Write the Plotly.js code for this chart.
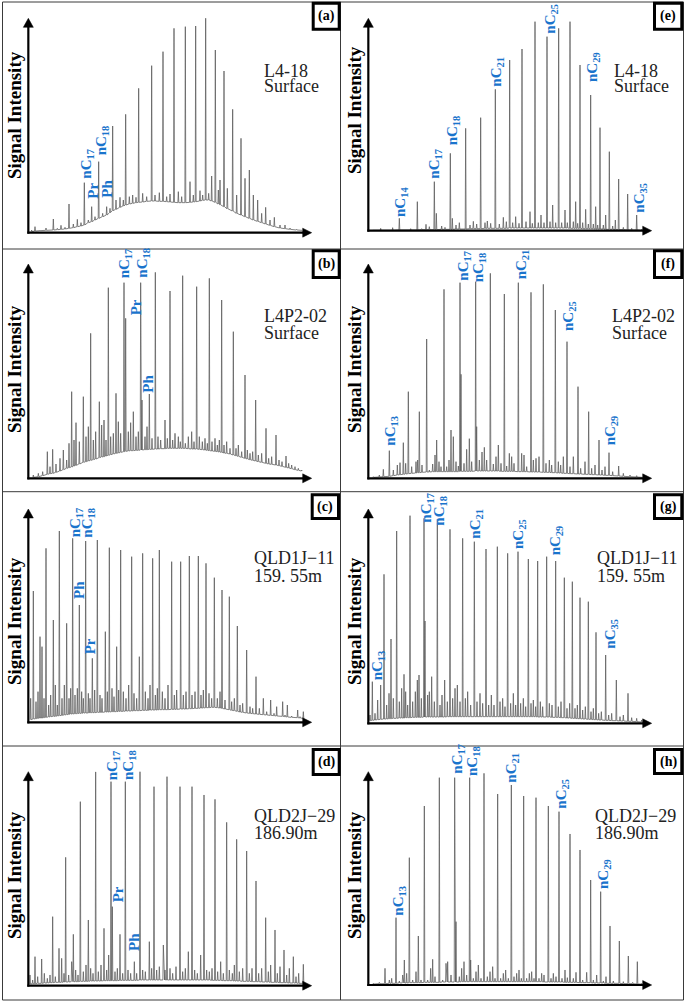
<!DOCTYPE html>
<html>
<head>
<meta charset="utf-8">
<script src="https://cdn.plot.ly/plotly-3.0.1.min.js"></script>
<style>html,body{margin:0;padding:0;background:#fff}#chart{width:685px;height:1002px}</style>
</head>
<body>
<div id="chart"></div>
<script>
// ---------------- DATA (retention position, peak intensity, baseline under peak) ----------------
// Panel (a) L4-18 Surface
const rt_a = [95,105,120,138,160,172,183,195,207,220,232,243,253,265,275,285,296,308,320,330,338,348,360,370,377,388,398,408,416,428,440,455,465,478,489,500,510,522,535,545,556,570,580,587,600,608,617,626,635,646,655,660,672,682,698,710,723,735,748,760,773,785,797,810,823,840,855,870,890,905];
const int_a = [8,18,8,14,41,13,22,16,86,26,40,30,150,38,78,48,213,58,78,73,320,98,106,98,355,108,113,106,433,118,108,501,113,120,543,108,116,613,123,108,618,153,113,620,126,113,650,118,170,548,128,158,485,133,370,113,283,163,188,113,98,58,76,38,46,23,23,14,10,8];
const base_a = [3,5,6,7,8,9,10,11,13,15,18,20,23,30,33,38,43,48,53,60,66,70,76,80,83,86,88,90,91,92,94,95,95,94,94,93,92,91,90,90,90,91,92,93,95,97,98,98,95,91,86,84,78,72,65,58,53,48,43,38,34,30,26,22,18,14,12,10,8,7];

// Panel (e) L4-18 Surface
const rt_e = [100,122,140,158,178,195,212,232,245,258,268,283,289,305,315,331,337,348,358,377,390,400,410,422,435,442,452,466,478,490,499,509,518,527,537,546,558,570,577,585,595,603,612,621,630,638,647,656,665,675,682,690,700,707,713,720,728,737,745,752,760,767,773,780,790,797,808,818,826,836,850,863,875,890,905];
const int_e = [2,7,3,9,37,4,6,87,6,19,12,147,52,14,10,232,37,17,24,307,17,28,20,339,24,29,22,424,20,40,27,512,24,42,22,545,27,57,22,627,24,47,24,582,27,77,24,607,24,62,24,627,27,87,22,497,24,64,20,407,20,72,17,309,17,47,237,14,32,155,10,110,7,47,4];
const base_e = [1,1,1,1,2,2,2,2,3,3,3,3,3,4,4,4,4,5,5,5,6,6,6,6,7,7,7,7,7,7,7,8,8,8,8,8,8,8,8,8,8,8,8,8,8,8,8,8,8,8,8,7,7,7,7,7,6,6,6,6,6,5,5,5,5,4,4,4,3,3,3,2,2,2,1];

// Panel (b) L4P2-02 Surface
const rt_b = [100,115,128,142,150,158,168,180,190,200,207,215,222,228,238,250,258,265,272,280,287,298,305,312,318,325,332,340,348,355,362,372,377,385,392,400,408,415,422,426,435,441,448,456,466,474,482,495,502,510,518,525,535,541,548,556,565,575,582,590,598,607,615,622,628,636,645,652,658,665,672,680,690,700,708,715,725,735,742,750,758,767,775,785,798,806,815,828,837,846,858,866,875,885,895,905];
const int_b = [10,15,20,80,35,87,43,60,85,55,105,260,115,167,110,245,125,155,435,115,140,230,160,175,115,572,125,135,255,170,135,587,480,140,167,200,125,140,587,235,125,155,253,120,618,125,115,175,120,562,115,135,125,110,608,105,125,140,110,575,125,110,120,105,600,110,120,100,115,535,100,110,90,440,90,100,80,310,85,75,80,235,70,75,150,60,65,130,55,50,67,45,40,35,30,25];
const base_b = [3,5,8,12,14,15,18,22,26,30,32,34,37,39,43,48,50,52,54,56,58,62,64,65,67,69,71,73,75,76,78,80,81,82,83,83,84,84,85,85,86,86,87,87,88,88,89,89,90,90,90,90,90,90,90,90,89,88,88,88,87,86,85,84,83,82,81,80,79,78,76,75,73,70,68,66,63,60,58,56,54,52,50,48,45,43,42,40,38,36,33,31,29,26,24,22];

// Panel (f) L4P2-02 Surface
const rt_f = [100,118,130,148,160,172,180,190,197,205,215,228,233,238,246,260,268,278,285,290,297,303,312,320,327,333,340,348,355,360,363,372,380,388,395,407,410,418,426,433,440,451,460,468,475,483,493,500,508,515,522,535,545,552,560,573,580,588,597,610,618,628,635,646,655,662,670,681,690,700,714,722,735,746,755,765,777,786,795,807,818,836,850,870,890,905];
const int_f = [5,10,27,83,25,40,47,107,45,260,35,50,55,200,40,418,25,43,70,115,50,35,567,35,55,145,125,50,37,587,312,45,87,119,50,590,155,55,79,93,55,615,43,65,100,45,553,37,75,65,45,587,75,70,35,558,55,60,65,582,45,55,40,505,50,40,65,410,35,65,275,30,50,200,30,40,115,25,35,77,20,37,15,10,8,5];
const base_f = [3,4,5,6,8,10,11,12,13,14,15,16,17,17,18,19,19,20,20,20,20,20,20,20,20,20,20,20,20,21,21,21,21,21,21,22,22,22,22,22,22,22,22,22,22,21,21,21,21,21,21,20,20,20,20,19,19,19,19,18,18,18,17,17,16,16,15,15,14,14,13,13,12,12,11,11,10,10,9,9,8,7,6,5,4,3];

// Panel (c) QLD1J-11 159.55m
const rt_c = [92,100,108,114,120,126,132,138,146,152,160,166,172,178,186,193,200,207,212,218,225,232,238,245,250,257,265,270,277,284,292,300,306,316,322,328,336,342,350,356,362,370,378,386,395,402,410,418,428,436,444,450,458,466,472,478,487,495,504,515,523,530,542,550,558,568,576,585,595,603,610,618,627,635,643,652,660,666,675,688,695,703,712,720,728,740,750,758,768,778,790,800,812,822,830,848,855,862,875,893,900,910];
const int_c = [72,394,62,92,257,227,72,522,52,82,307,112,52,574,72,112,297,72,102,552,82,102,352,92,72,544,87,72,192,97,547,82,72,272,92,524,102,77,227,97,517,92,72,112,497,87,72,197,507,92,72,112,492,82,102,517,92,72,112,482,82,97,482,82,92,499,82,92,499,82,97,477,87,72,434,72,92,397,67,377,62,72,289,52,57,217,47,42,137,42,72,32,67,27,47,62,22,52,19,37,17,32];
const base_c = [8,10,11,12,13,13,14,15,16,17,18,18,19,20,21,22,23,24,25,25,26,26,27,27,28,28,28,29,29,29,30,30,30,31,31,31,32,32,32,33,33,33,34,34,34,35,35,35,36,36,36,37,37,37,37,38,38,38,38,39,39,39,40,40,40,41,41,42,42,43,43,44,44,45,45,44,43,42,40,38,36,35,33,31,30,28,27,26,25,24,23,22,21,20,19,18,17,16,15,14,13,12];

// Panel (g) QLD1J-11 159.55m
const rt_g = [90,97,105,113,122,132,140,147,153,160,170,178,185,192,197,203,210,218,226,232,237,244,252,255,263,268,275,283,292,300,306,314,322,330,338,345,352,360,368,376,383,392,403,411,420,428,438,446,454,462,472,480,488,495,503,512,520,527,534,542,550,557,565,573,580,587,593,601,608,620,628,636,647,655,663,673,681,689,697,705,712,720,728,736,745,753,760,768,776,784,797,806,815,829,840,850,864,875,890,905];
const int_g = [25,125,30,70,115,447,55,90,253,75,577,65,105,147,95,55,623,65,95,130,145,75,615,307,85,95,140,65,612,55,85,130,65,582,75,105,115,65,555,75,95,55,545,65,90,60,523,55,85,55,530,65,75,50,510,60,90,55,515,60,75,50,493,60,70,50,487,65,50,500,60,55,487,50,65,437,45,60,425,45,55,377,40,50,365,35,45,273,30,35,205,25,30,130,20,25,90,17,15,10];
const base_g = [8,9,10,11,12,13,13,14,14,15,15,16,16,16,17,17,17,18,18,18,18,18,19,19,19,19,19,19,19,19,19,19,20,20,20,20,20,20,20,20,20,20,20,20,20,20,20,20,20,20,20,20,20,20,20,20,20,20,20,20,20,20,20,20,20,20,19,19,19,19,19,18,18,18,17,17,16,16,15,15,14,14,13,13,12,12,11,11,10,10,9,9,8,8,7,7,6,6,5,4];

// Panel (d) QLD2J-29 186.90m
const rt_d = [90,98,105,113,125,133,142,150,158,166,177,185,192,197,206,215,220,227,234,241,250,258,265,272,279,287,295,303,312,320,326,333,337,345,352,360,368,376,384,392,403,410,420,428,436,448,455,462,470,478,490,495,501,510,518,528,540,548,556,565,576,584,592,602,612,620,628,636,645,653,662,670,680,688,697,703,710,718,728,740,748,756,768,776,785,797,805,812,825,832,840,852,860,868,880,888,896,910];
const int_d = [32,17,87,27,80,37,22,32,207,27,112,82,37,385,32,72,154,47,32,552,42,62,197,52,37,642,42,62,172,47,92,612,237,42,52,154,37,612,47,37,72,37,664,47,42,132,52,597,47,57,122,47,627,52,37,57,597,42,52,102,597,47,37,92,572,47,42,52,559,42,72,37,490,47,37,62,439,42,52,404,37,52,314,37,52,204,42,62,167,37,57,107,32,52,87,27,37,64];
const base_d = [5,6,6,7,7,8,8,9,9,10,10,10,11,11,11,12,12,12,12,13,13,13,13,14,14,14,14,14,15,15,15,15,15,15,15,16,16,16,16,16,16,16,17,17,17,17,17,17,17,17,17,17,17,17,17,17,17,17,17,17,17,17,17,17,17,17,17,16,16,16,16,15,15,15,15,14,14,14,13,13,13,12,12,12,11,11,11,10,10,10,9,9,9,8,8,8,7,7];

// Panel (h) QLD2J-29 186.90m
const rt_h = [100,118,135,148,155,168,178,188,193,200,208,218,228,235,243,253,263,272,278,285,298,308,318,323,333,344,348,358,365,372,380,389,392,400,408,415,423,432,442,450,458,465,473,482,490,497,505,514,522,530,537,544,551,560,568,575,582,588,597,605,612,625,633,640,648,657,666,675,682,690,700,708,720,728,740,752,760,770,782,790,798,810,820,838,850,865,878,892,905];
const int_h = [5,8,50,15,20,202,12,30,75,35,382,15,40,147,15,537,15,50,77,25,622,15,65,70,30,622,190,25,50,70,30,622,75,20,40,60,20,635,25,40,55,20,573,20,35,45,20,600,25,35,45,20,567,20,35,40,20,562,20,35,30,537,20,35,25,520,20,45,22,453,20,38,405,15,38,315,15,30,280,12,25,177,12,132,10,87,8,70,5];
const base_h = [3,4,4,5,5,5,6,6,6,6,7,7,7,7,7,8,8,8,8,8,8,9,9,9,9,9,9,9,10,10,10,10,10,10,10,10,10,10,10,10,10,10,10,10,10,10,10,10,10,10,10,10,10,10,10,10,10,10,10,10,9,9,9,9,9,9,9,8,8,8,8,8,7,7,7,7,6,6,6,6,5,5,5,5,4,4,4,3,3];

// Peak labels: text, position, label foot height
const labText_a = ['nC<sub>17</sub>','Pr','nC<sub>18</sub>','Ph'];
const labX_a = [260,278,305,322];
const labY_a = [158,98,228,103];
const labText_e = ['nC<sub>14</sub>','nC<sub>17</sub>','nC<sub>18</sub>','nC<sub>21</sub>','nC<sub>25</sub>','nC<sub>29</sub>','nC<sub>35</sub>'];
const labX_e = [183,284,338,472,632,761,901];
const labY_e = [38,152,252,430,587,442,52];
const labText_b = ['nC<sub>17</sub>','Pr','nC<sub>18</sub>','Ph'];
const labX_b = [375,407,430,445];
const labY_b = [597,485,600,255];
const labText_f = ['nC<sub>13</sub>','nC<sub>17</sub>','nC<sub>18</sub>','nC<sub>21</sub>','nC<sub>25</sub>','nC<sub>29</sub>'];
const labX_f = [153,372,417,547,685,812];
const labY_f = [95,590,585,595,440,95];
const labText_c = ['nC<sub>17</sub>','Ph','nC<sub>18</sub>','Pr'];
const labX_c = [228,237,265,271];
const labY_c = [552,367,552,202];
const labText_g = ['nC<sub>13</sub>','nC<sub>17</sub>','nC<sub>18</sub>','nC<sub>21</sub>','nC<sub>25</sub>','nC<sub>29</sub>','nC<sub>35</sub>'];
const labX_g = [113,262,300,407,537,647,812];
const labY_g = [125,600,590,550,520,500,220];
const labText_d = ['nC<sub>17</sub>','Pr','nC<sub>18</sub>','Ph'];
const labX_d = [340,354,387,400];
const labY_d = [614,247,614,102];
const labText_h = ['nC<sub>13</sub>','nC<sub>17</sub>','nC<sub>18</sub>','nC<sub>21</sub>','nC<sub>25</sub>','nC<sub>29</sub>'];
const labX_h = [177,353,397,517,665,792];
const labY_h = [205,630,625,605,525,285];

const sample_a = ['L4-18','Surface'];
const sample_e = ['L4-18','Surface'];
const sample_b = ['L4P2-02','Surface'];
const sample_f = ['L4P2-02','Surface'];
const sample_c = ['QLD1J\u221211','159. 55m'];
const sample_g = ['QLD1J\u221211','159. 55m'];
const sample_d = ['QLD2J\u221229','186.90m'];
const sample_h = ['QLD2J\u221229','186.90m'];

// ---------------- LAYOUT ----------------
const W = 685, H = 1002;
const px = v => v / W;
const py = v => 1 - v / H;
const SERIF = 'Liberation Serif, "Times New Roman", Times, serif';
const BLUE = '#1a74cc';

const panels = [
  {k:'a', rt:rt_a, it:int_a, bs:base_a, lt:labText_a, lx:labX_a, ly:labY_a, s:sample_a, ox:0,   oy:0,   ax:698, tp:55,  box:[311.7,1.7,340.7,30.7], sx:262,   sy:[71,86],    siy:115},
  {k:'b', rt:rt_b, it:int_b, bs:base_b, lt:labText_b, lx:labX_b, ly:labY_b, s:sample_b, ox:0,   oy:240, ax:715, tp:72,  box:[311.7,249.3,340.7,279], sx:262, sy:[316,333],  siy:369},
  {k:'c', rt:rt_c, it:int_c, bs:base_c, lt:labText_c, lx:labX_c, ly:labY_c, s:sample_c, ox:0,   oy:485, ax:712, tp:72,  box:[310.7,493.3,340,520], sx:252,   sy:[558,576],  siy:621},
  {k:'d', rt:rt_d, it:int_d, bs:base_d, lt:labText_d, lx:labX_d, ly:labY_d, s:sample_d, ox:0,   oy:735, ax:752, tp:110, box:[311.7,748,340.7,776], sx:252,   sy:[816,833],  siy:875},
  {k:'e', rt:rt_e, it:int_e, bs:base_e, lt:labText_e, lx:labX_e, ly:labY_e, s:sample_e, ox:340, oy:0,   ax:692, tp:55,  box:[653,1.7,683.3,30.7], sx:611.7,  sy:[71,86],    siy:110},
  {k:'f', rt:rt_f, it:int_f, bs:base_f, lt:labText_f, lx:labX_f, ly:labY_f, s:sample_f, ox:340, oy:240, ax:715, tp:72,  box:[653,249.3,683.3,279], sx:610,   sy:[316,333],  siy:369},
  {k:'g', rt:rt_g, it:int_g, bs:base_g, lt:labText_g, lx:labX_g, ly:labY_g, s:sample_g, ox:340, oy:485, ax:715, tp:72,  box:[653,493.3,683.3,520], sx:595,   sy:[558,576],  siy:621},
  {k:'h', rt:rt_h, it:int_h, bs:base_h, lt:labText_h, lx:labX_h, ly:labY_h, s:sample_h, ox:340, oy:735, ax:750, tp:110, box:[653,748,683.3,775], sx:593,     sy:[816,833],  siy:875}
];

const traces = [];
const layout = {
  width: W, height: H,
  margin: {l:0, r:0, t:0, b:0},
  paper_bgcolor: '#fff', plot_bgcolor: 'rgba(0,0,0,0)',
  showlegend: false,
  shapes: [], annotations: []
};

// panel frame lines
const frameLine = (x0,y0,x1,y1) => ({type:'line', xref:'paper', yref:'paper', x0:px(x0), y0:py(y0), x1:px(x1), y1:py(y1), line:{color:'#3a3a3a', width:1}, layer:'below'});
layout.shapes.push(frameLine(2.5,2,2.5,1000));
layout.shapes.push(frameLine(683.5,2,683.5,1000));
layout.shapes.push(frameLine(2.5,2,683.5,2));
layout.shapes.push(frameLine(2.5,1000,683.5,1000));
layout.shapes.push(frameLine(340.5,2,340.5,1000));
layout.shapes.push(frameLine(2.5,249,683.5,249));
layout.shapes.push(frameLine(2.5,491.7,683.5,491.7));
layout.shapes.push(frameLine(2.5,746,683.5,746));

panels.forEach((p, i) => {
  const n = i + 1;
  const xa = 'xaxis' + (n === 1 ? '' : n), ya = 'yaxis' + (n === 1 ? '' : n);
  const xr = 'x' + (n === 1 ? '' : n), yr = 'y' + (n === 1 ? '' : n);
  const x0px = p.ox + 85/3, x1px = p.ox + 935/3;
  const y0px = p.oy + p.ax/3, y1px = p.oy + p.tp/3;
  layout[xa] = {domain:[px(x0px), px(x1px)], range:[85, 935], visible:false, fixedrange:true, anchor:yr};
  layout[ya] = {domain:[py(y0px), py(y1px)], range:[0, p.ax - p.tp], visible:false, fixedrange:true, anchor:xr};

  // chromatogram trace: each peak drawn as a narrow spike on its local baseline
  const xs = [], ys = [], w = 1.4;
  p.rt.forEach((r, j) => {
    xs.push(r - w, r, r + w);
    ys.push(p.bs[j], p.it[j], p.bs[j]);
  });
  traces.push({type:'scatter', mode:'lines', x:xs, y:ys, xaxis:xr, yaxis:yr,
    line:{color:'#5a5a5a', width:0.75}, hoverinfo:'skip'});

  // axis lines
  layout.shapes.push({type:'line', xref:'paper', yref:'paper', x0:px(x0px), x1:px(x0px), y0:py(y0px+1), y1:py(y1px+5), line:{color:'#000', width:2.2}});
  layout.shapes.push({type:'line', xref:'paper', yref:'paper', x0:px(x0px-1), x1:px(x1px-5), y0:py(y0px), y1:py(y0px), line:{color:'#000', width:2.2}});
  // arrowheads
  layout.shapes.push({type:'path', xref:'paper', yref:'paper', xsizemode:'pixel', ysizemode:'pixel',
    xanchor:px(x0px), yanchor:py(y1px), path:'M0,0 L-5,-9 L5,-9 Z', fillcolor:'#000', line:{color:'#000', width:0.5}});
  layout.shapes.push({type:'path', xref:'paper', yref:'paper', xsizemode:'pixel', ysizemode:'pixel',
    xanchor:px(x1px), yanchor:py(y0px), path:'M0,0 L-9,4.5 L-9,-4.5 Z', fillcolor:'#000', line:{color:'#000', width:0.5}});

  // label box
  const b = p.box;
  layout.shapes.push({type:'rect', xref:'paper', yref:'paper', x0:px(b[0]+1.5), x1:px(b[2]-1.5), y0:py(b[1]+1.5), y1:py(b[3]-1.5),
    line:{color:'#000', width:3}, fillcolor:'#fff'});
  layout.annotations.push({xref:'paper', yref:'paper', x:px((b[0]+b[2])/2), y:py((b[1]+b[3])/2), text:'<b>(' + p.k + ')</b>',
    showarrow:false, xanchor:'center', yanchor:'middle', font:{family:SERIF, size:14, color:'#000'}});

  // y axis title
  layout.annotations.push({xref:'paper', yref:'paper', x:px(p.ox + 14), y:py(p.siy), text:'<b>Signal Intensity</b>', textangle:-90,
    showarrow:false, xanchor:'center', yanchor:'middle', font:{family:SERIF, size:19, color:'#000'}});

  // sample name
  p.s.forEach((t, j) => {
    layout.annotations.push({xref:'paper', yref:'paper', x:px(p.sx), y:py(p.sy[j]), text:t, showarrow:false,
      xanchor:'left', yanchor:'middle', font:{family:SERIF, size:18, color:'#222'}});
  });

  // peak labels
  p.lt.forEach((t, j) => {
    layout.annotations.push({xref:xr, yref:yr, x:p.lx[j], y:p.ly[j], text:'<b>' + t + '</b>', textangle:-90,
      showarrow:false, xanchor:'center', yanchor:'bottom', borderpad:0,
      font:{family:SERIF, size:15, color:BLUE}});
  });
});

Plotly.newPlot('chart', traces, layout, {staticPlot:true, displayModeBar:false});
</script>
</body>
</html>
